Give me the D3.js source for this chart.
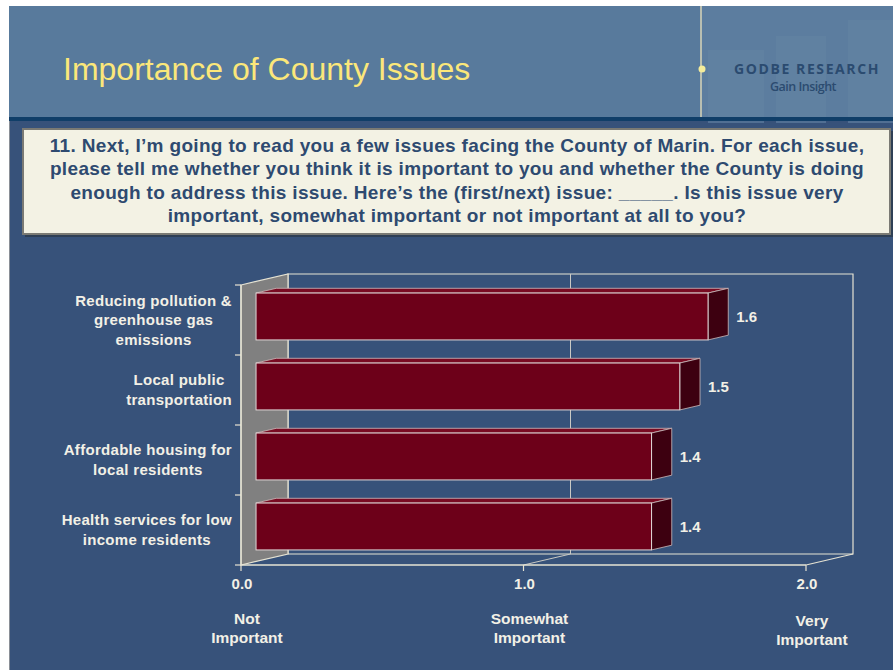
<!DOCTYPE html>
<html>
<head>
<meta charset="utf-8">
<script src="https://cdn.jsdelivr.net/npm/d3@7"></script>
<style>
  body { margin: 0; background: #fff; }
  svg { display: block; font-family: "Liberation Sans", Arial, sans-serif; }
</style>
</head>
<body>
<div id="slide"></div>
<script>
const WIDTH = 893;
const HEIGHT = 670;

// chart data
const categories = [
  ["Reducing pollution &", "greenhouse gas", "emissions"],
  ["Local public", "transportation"],
  ["Affordable housing for", "local residents"],
  ["Health services for low", "income residents"]
];
const values = [1.6, 1.5, 1.4, 1.4];
const valueLabels = ["1.6", "1.5", "1.4", "1.4"];
const xTicks = [0, 1, 2];
const xTickLabels = ["0.0", "1.0", "2.0"];
const scaleLabels = [["Not", "Important"], ["Somewhat", "Important"], ["Very", "Important"]];

const TITLE = "Importance of County Issues";
const QUESTION = [
  "11. Next, I\u2019m going to read you a few issues facing the County of Marin. For each issue,",
  "please tell me whether you think it is important to you and whether the County is doing",
  "enough to address this issue. Here\u2019s the (first/next) issue: _____. Is this issue very",
  "important, somewhat important or not important at all to you?"
];

const LABEL_SIZE = 15;
const TEXT_COLOR = "#f2f0e6";

const svg = d3.select("#slide").append("svg")
    .attr("width", WIDTH)
    .attr("height", HEIGHT);

// slide background
svg.append("rect").attr("x", 9).attr("y", 6).attr("width", WIDTH - 9).attr("height", HEIGHT - 6)
    .attr("fill", "#37527a");
svg.append("line").attr("x1", 9.5).attr("x2", 9.5).attr("y1", 6).attr("y2", HEIGHT)
    .attr("stroke", "#8a8f96").attr("stroke-width", 1);

// header band
svg.append("rect").attr("x", 9).attr("y", 6).attr("width", WIDTH - 9).attr("height", 111)
    .attr("fill", "#587a9c");
// logo panel with faint buildings
svg.append("rect").attr("x", 701).attr("y", 6).attr("width", 192).attr("height", 111)
    .attr("fill", "#5c7d9f");
[[708, 44, 56, 73], [776, 30, 50, 87], [848, 14, 45, 103]].forEach(b => {
  svg.append("rect").attr("x", b[0]).attr("y", 6 + b[1]).attr("width", b[2]).attr("height", b[3])
      .attr("fill", "#6383a3").attr("opacity", 0.6);
});
svg.append("rect").attr("x", 9).attr("y", 117).attr("width", WIDTH - 9).attr("height", 4)
    .attr("fill", "#103e68");
svg.append("line").attr("x1", 701).attr("x2", 701).attr("y1", 6).attr("y2", 117)
    .attr("stroke", "#d8d6b8").attr("stroke-width", 1.5);
svg.append("circle").attr("cx", 702).attr("cy", 69).attr("r", 3.5).attr("fill", "#f4ec9a");

svg.append("text").attr("x", 63).attr("y", 80)
    .attr("font-size", 32).attr("fill", "#fbe77a")
    .text(TITLE);

svg.append("text").attr("x", 807).attr("y", 74).attr("text-anchor", "middle")
    .attr("font-family", "'Open Sans', sans-serif").attr("font-weight", 700)
    .attr("font-size", 14).attr("letter-spacing", 1.6).attr("fill", "#2b4b70")
    .text("GODBE RESEARCH");
svg.append("text").attr("x", 803).attr("y", 91).attr("text-anchor", "middle")
    .attr("font-family", "'Open Sans', sans-serif").attr("font-weight", 600)
    .attr("font-size", 12.5).attr("letter-spacing", -0.5).attr("fill", "#2b4b70")
    .text("Gain Insight");

// question box
svg.append("rect").attr("x", 25).attr("y", 131).attr("width", 868).attr("height", 106)
    .attr("fill", "#2e3f55");
svg.append("rect").attr("x", 23).attr("y", 129).attr("width", 867).attr("height", 105)
    .attr("fill", "#f3f2e4").attr("stroke", "#7a7a74").attr("stroke-width", 2);
svg.append("g").selectAll("text")
    .data(QUESTION)
    .enter()
    .append("text")
      .attr("x", 457)
      .attr("y", (d, i) => 152 + i * 23.4)
      .attr("text-anchor", "middle")
      .attr("font-size", 19).attr("letter-spacing", 0.33)
      .attr("font-weight", "bold").attr("fill", "#2e4a70")
      .text(d => d);

// ---- 3D bar chart ----
const LEFT = 241, RIGHT = 806, TOP = 285, BOTTOM = 565;
const DX = 47, DY = -11;          // depth of the walls
const T0 = 0.32, T1 = 0.75;       // bar depth range
const LINE = "#e6e3d3";

const x = d3.scaleLinear().domain([0, 2]).range([LEFT, RIGHT]);
const y = d3.scaleBand().domain(d3.range(categories.length))
    .range([TOP, BOTTOM]).paddingInner(0.33).paddingOuter(0.165);

const chart = svg.append("g");

// back wall and floor lines
chart.append("path")
    .attr("d", `M${LEFT + DX},${BOTTOM + DY} V${TOP + DY} H${RIGHT + DX} V${BOTTOM + DY} H${LEFT + DX}`)
    .attr("fill", "none").attr("stroke", LINE).attr("stroke-width", 1.2);
xTicks.filter(t => t > 0 && t < 2).forEach(t => {
  chart.append("path")
      .attr("d", `M${x(t)},${BOTTOM} L${x(t) + DX},${BOTTOM + DY} V${TOP + DY}`)
      .attr("fill", "none").attr("stroke", "#c9c9c4").attr("stroke-width", 1);
});
chart.append("line")
    .attr("x1", RIGHT).attr("y1", BOTTOM).attr("x2", RIGHT + DX).attr("y2", BOTTOM + DY)
    .attr("stroke", LINE).attr("stroke-width", 1.2);

// gray left wall
chart.append("polygon")
    .attr("points", [[LEFT, TOP], [LEFT + DX, TOP + DY], [LEFT + DX, BOTTOM + DY], [LEFT, BOTTOM]].join(" "))
    .attr("fill", "#808080").attr("stroke", LINE).attr("stroke-width", 1.2);

// bars
const bars = chart.append("g").selectAll("g")
    .data(values)
    .enter()
    .append("g");

const bx = DX * (T1 - T0), by = DY * (T1 - T0);
const fy = i => y(i) + DY * T0;

// top face
bars.append("polygon")
    .attr("points", (d, i) => {
      const x0 = x(0) + DX * T0, x1 = x(d) + DX * T0, y0 = fy(i);
      return [[x0, y0], [x0 + bx, y0 + by], [x1 + bx, y0 + by], [x1, y0]].join(" ");
    })
    .attr("fill", "#7a0a22").attr("stroke", "#cdbcbc").attr("stroke-width", 0.8);
// side face
bars.append("polygon")
    .attr("points", (d, i) => {
      const x1 = x(d) + DX * T0, y0 = fy(i), y1 = y0 + y.bandwidth();
      return [[x1, y0], [x1 + bx, y0 + by], [x1 + bx, y1 + by], [x1, y1]].join(" ");
    })
    .attr("fill", "#3d0010").attr("stroke", "#cdbcbc").attr("stroke-width", 0.8);
// front face
bars.append("rect")
    .attr("x", x(0) + DX * T0)
    .attr("y", (d, i) => fy(i))
    .attr("width", d => x(d) - x(0))
    .attr("height", y.bandwidth())
    .attr("fill", "#6d0019").attr("stroke", "#e0d6d6").attr("stroke-width", 1);

// value labels
bars.append("text")
    .attr("x", d => x(d) + DX * T1 + 8)
    .attr("y", (d, i) => y(i) + y.bandwidth() / 2 + 2)
    .attr("font-size", LABEL_SIZE).attr("font-weight", "bold").attr("fill", TEXT_COLOR)
    .text((d, i) => valueLabels[i]);

// front axes
chart.append("path")
    .attr("d", `M${LEFT},${TOP} V${BOTTOM} H${RIGHT}`)
    .attr("fill", "none").attr("stroke", LINE).attr("stroke-width", 1.4);

const yEdges = d3.range(categories.length + 1).map(i => TOP + i * y.step());
chart.append("g").selectAll("line")
    .data(yEdges)
    .enter()
    .append("line")
      .attr("x1", LEFT - 6).attr("x2", LEFT)
      .attr("y1", d => d).attr("y2", d => d)
      .attr("stroke", LINE).attr("stroke-width", 1.2);

chart.append("g").selectAll("line")
    .data(xTicks)
    .enter()
    .append("line")
      .attr("x1", d => x(d)).attr("x2", d => x(d))
      .attr("y1", BOTTOM).attr("y2", BOTTOM + 6)
      .attr("stroke", LINE).attr("stroke-width", 1.2);

chart.append("g").selectAll("text")
    .data(xTicks)
    .enter()
    .append("text")
      .attr("x", d => x(d) + 1)
      .attr("y", BOTTOM + 24)
      .attr("text-anchor", "middle")
      .attr("font-size", LABEL_SIZE).attr("font-weight", "bold").attr("fill", TEXT_COLOR)
      .text((d, i) => xTickLabels[i]);

// scale anchors under the ticks
const anchors = chart.append("g").selectAll("text")
    .data(xTicks)
    .enter()
    .append("text")
      .attr("x", d => x(d) + 6)
      .attr("y", (d, i) => i === 2 ? 626 : 624)
      .attr("text-anchor", "middle")
      .attr("font-size", LABEL_SIZE + 0.5).attr("font-weight", "bold").attr("fill", TEXT_COLOR);
anchors.selectAll("tspan")
    .data((d, i) => scaleLabels[i])
    .enter()
    .append("tspan")
      .attr("x", function() { return d3.select(this.parentNode).attr("x"); })
      .attr("dy", (d, j) => j === 0 ? 0 : 19)
      .text(d => d);

// category labels: centred lines, block right-aligned to the axis
categories.forEach((lines, i) => {
  const cy = y(i) + y.bandwidth() / 2;
  const g = chart.append("g");
  const texts = g.selectAll("text")
      .data(lines)
      .enter()
      .append("text")
        .attr("y", (d, j) => cy + (j - (lines.length - 1) / 2) * 19.5 + 5)
        .attr("text-anchor", "middle")
        .attr("font-size", LABEL_SIZE).attr("letter-spacing", 0.3)
        .attr("font-weight", "bold").attr("fill", TEXT_COLOR)
        .text(d => d);
  let maxW = 0;
  texts.each(function() { maxW = Math.max(maxW, this.getComputedTextLength()); });
  texts.attr("x", 232 - maxW / 2);
});
</script>
</body>
</html>
